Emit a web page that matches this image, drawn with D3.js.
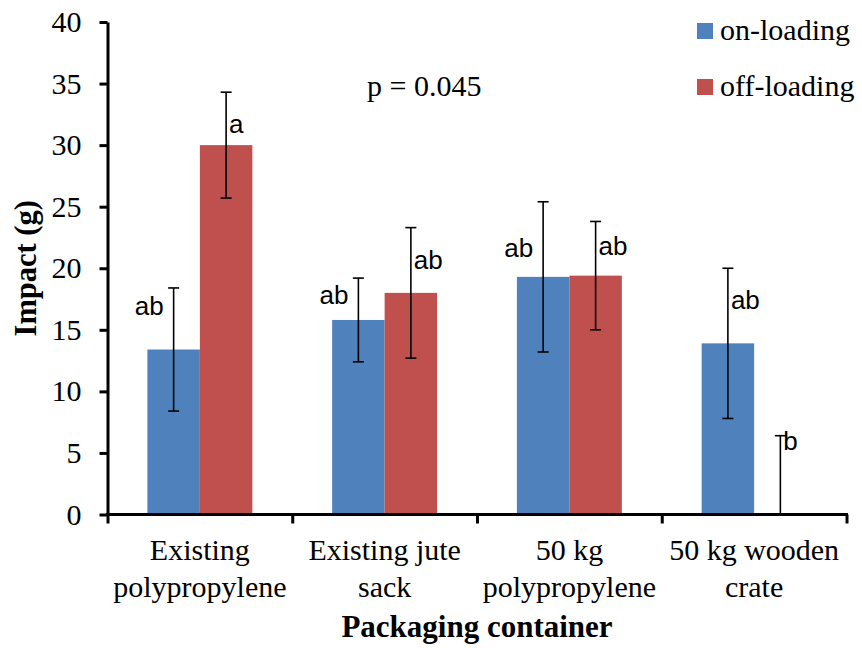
<!DOCTYPE html>
<html>
<head>
<meta charset="utf-8">
<script src="https://cdn.jsdelivr.net/npm/d3@7"></script>
<style>
  body { margin: 0; background: #fff; }
  svg { display: block; }
  .serif { font-family: "Liberation Serif", "Times New Roman", serif; }
  .sans { font-family: "Liberation Sans", Arial, sans-serif; }
</style>
</head>
<body>
<div id="chart"></div>
<script>
// data
const categories = [
    ["Existing", "polypropylene"],
    ["Existing jute", "sack"],
    ["50 kg", "polypropylene"],
    ["50 kg wooden", "crate"]
];
const seriesNames = ["on-loading", "off-loading"];
const seriesColors = ["#4F81BD", "#C0504D"];
const onLoading = [13.4, 15.8, 19.3, 13.9];
const offLoading = [30.0, 18.0, 19.4, 0];
const onLoadingErr = [5.0, 3.4, 6.1, 6.1];
const offLoadingErr = [4.3, 5.3, 4.4, 6.4];
const onLoadingLetters = ["ab", "ab", "ab", "ab"];
const offLoadingLetters = ["a", "ab", "ab", "b"];
const onLetterAt = [16.2, 17.1, 20.9, 16.7];
const offLetterAt = [31.0, 19.95, 21.1, 5.25];
const onLetterSide = ["left", "left", "left", "right"];
const offLetterSide = ["right", "right", "right", "right"];
const yTicks = [0, 5, 10, 15, 20, 25, 30, 35, 40];
const pValueText = "p = 0.045";

// draw
{
    let width = 862,
        height = 648,
        x0 = 107.5,
        x1 = 846.5,
        yTop = 22,
        yBottom = 514.5;

    let rows = [];
    for (let i = 0; i < categories.length; ++i) {
        rows.push({ g: i, s: 0, v: onLoading[i], e: onLoadingErr[i], t: onLoadingLetters[i], at: onLetterAt[i], side: onLetterSide[i] });
        rows.push({ g: i, s: 1, v: offLoading[i], e: offLoadingErr[i], t: offLoadingLetters[i], at: offLetterAt[i], side: offLetterSide[i] });
    }

    let svg = d3.select("#chart").append("svg")
        .attr("width", width)
        .attr("height", height);

    let y = d3.scaleLinear().domain([0, 40]).range([yBottom, yTop]);
    let groups = d3.scaleBand().domain(d3.range(categories.length)).range([x0, x1]);
    let inner = d3.scaleBand().domain(d3.range(seriesNames.length))
        .range([0, groups.bandwidth()])
        .paddingInner(0)
        .paddingOuter(0.76);
    let edges = d3.scaleLinear().domain([0, categories.length]).range([x0, x1]);

    // bars
    svg.selectAll(".bar")
        .data(rows.filter(d => d.v > 0))
        .enter()
        .append("rect")
        .attr("class", "bar")
        .attr("x", d => groups(d.g) + inner(d.s))
        .attr("y", d => y(d.v))
        .attr("width", inner.bandwidth())
        .attr("height", d => y(0) - y(d.v))
        .attr("fill", d => seriesColors[d.s]);

    // error bars
    let cx = d => groups(d.g) + inner(d.s) + inner.bandwidth() / 2,
        cap = 5.5;
    let eb = svg.append("g")
        .attr("stroke", "#000")
        .attr("stroke-width", 1.6)
        .attr("fill", "none");
    rows.forEach(function(d) {
        let lo = Math.max(0, d.v - d.e),
            hi = d.v + d.e,
            xx = cx(d);
        eb.append("line").attr("x1", xx).attr("x2", xx).attr("y1", y(lo)).attr("y2", y(hi));
        eb.append("line").attr("x1", xx - cap).attr("x2", xx + cap).attr("y1", y(hi)).attr("y2", y(hi));
        if (d.v - d.e >= 0)
            eb.append("line").attr("x1", xx - cap).attr("x2", xx + cap).attr("y1", y(lo)).attr("y2", y(lo));
    });

    // significance letters
    svg.selectAll(".letter")
        .data(rows)
        .enter()
        .append("text")
        .attr("class", "letter sans")
        .attr("x", d => d.side == "left" ? cx(d) - 10 : cx(d) + 3)
        .attr("y", d => y(d.at))
        .attr("text-anchor", d => d.side == "left" ? "end" : "start")
        .attr("font-size", 26)
        .attr("fill", "#000")
        .text(d => d.t);

    // y axis
    let yAxis = d3.axisLeft(y)
        .tickValues(yTicks)
        .tickSize(8)
        .tickSizeOuter(0)
        .tickPadding(18);
    let gy = svg.append("g")
        .attr("transform", "translate(" + x0 + ",0)")
        .call(yAxis);
    gy.select(".domain").attr("stroke-width", 3);
    gy.selectAll(".tick line").attr("stroke-width", 3);
    gy.selectAll(".tick text")
        .attr("class", "serif")
        .attr("font-size", 30)
        .attr("fill", "#000");

    // x axis, ticks on group edges
    let xAxis = d3.axisBottom(edges)
        .tickValues(d3.range(categories.length + 1))
        .tickSize(9)
        .tickSizeOuter(0)
        .tickFormat("");
    let gx = svg.append("g")
        .attr("transform", "translate(0," + yBottom + ")")
        .call(xAxis);
    gx.select(".domain").attr("stroke-width", 3).attr("d", "M" + (x0 - 1.5) + ",0H" + (x1 + 1.5));
    gx.selectAll(".tick line").attr("stroke-width", 3);

    // category labels
    let catText = svg.selectAll(".cat")
        .data(categories)
        .enter()
        .append("text")
        .attr("class", "cat serif")
        .attr("text-anchor", "middle")
        .attr("font-size", 30)
        .attr("fill", "#000");
    catText.each(function(d, i) {
        let t = d3.select(this);
        d.forEach(function(line, j) {
            t.append("tspan")
                .attr("x", groups(i) + groups.bandwidth() / 2)
                .attr("y", 560 + j * 37)
                .text(line);
        });
    });

    // axis titles
    svg.append("text")
        .attr("class", "serif")
        .attr("x", (x0 + x1) / 2)
        .attr("y", 637)
        .attr("text-anchor", "middle")
        .attr("font-size", 31)
        .attr("font-weight", "bold")
        .text("Packaging container");
    svg.append("text")
        .attr("class", "serif")
        .attr("transform", "translate(36," + (yTop + yBottom) / 2 + ") rotate(-90)")
        .attr("text-anchor", "middle")
        .attr("font-size", 30.5)
        .attr("font-weight", "bold")
        .text("Impact (g)");

    // p value
    svg.append("text")
        .attr("class", "serif")
        .attr("x", 367)
        .attr("y", 96)
        .attr("font-size", 30)
        .text(pValueText);

    // legend
    let legend = svg.selectAll(".legend")
        .data(seriesNames)
        .enter()
        .append("g")
        .attr("class", "legend")
        .attr("transform", (d, i) => "translate(697," + (23 + i * 56) + ")");
    legend.append("rect")
        .attr("width", 16)
        .attr("height", 16)
        .attr("fill", (d, i) => seriesColors[i]);
    legend.append("text")
        .attr("class", "serif")
        .attr("x", 23)
        .attr("y", 17)
        .attr("font-size", 30)
        .text(d => d);
}
</script>
</body>
</html>
